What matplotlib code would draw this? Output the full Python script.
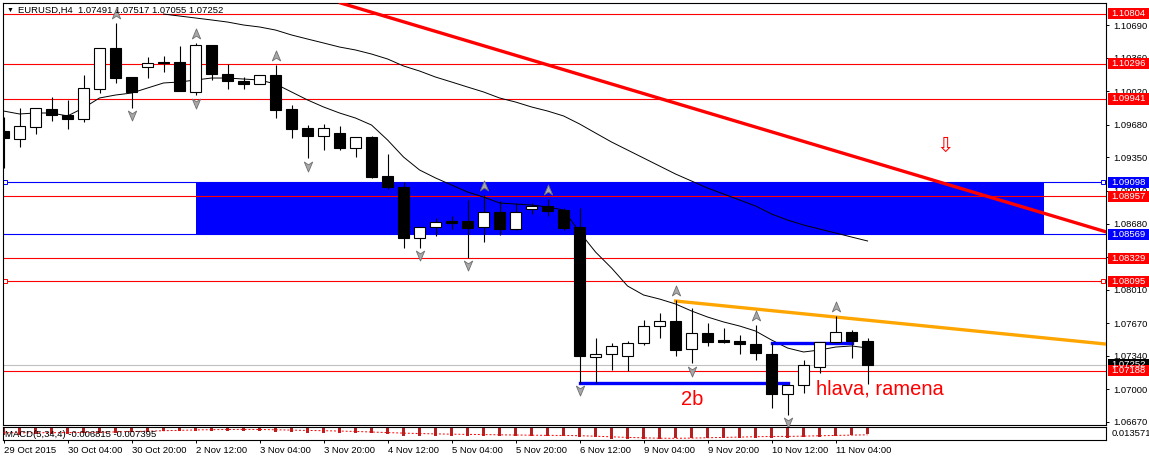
import numpy as np
import matplotlib
matplotlib.use("Agg")
import matplotlib.pyplot as plt
import matplotlib.transforms as mtransforms
from matplotlib.path import Path
from matplotlib.patches import Rectangle

plt.rcParams['font.family'] = ['Liberation Sans', 'DejaVu Sans']

# EURUSD H4 bars, 29 Oct 2015 12:00 .. 11 Nov 2015 12:00
opens = [1.09617, 1.09536, 1.09657, 1.09839, 1.09779, 1.09738, 1.10042, 1.10457, 1.10163, 1.10265,
         1.10315, 1.10315, 1.10012, 1.10487, 1.10194, 1.10123, 1.10093, 1.10184, 1.09839, 1.09647,
         1.09566, 1.09596, 1.09444, 1.09556, 1.09161, 1.09050, 1.08533, 1.08645, 1.08705, 1.08705,
         1.08645, 1.08797, 1.08624, 1.08827, 1.08857, 1.08817, 1.08645, 1.07328, 1.07359, 1.07338,
         1.07470, 1.07642, 1.07693, 1.07409, 1.07571, 1.07500, 1.07490, 1.07460, 1.07359, 1.06954,
         1.07045, 1.07227, 1.07480, 1.07581, 1.07491]
highs = [1.09758, 1.09850, 1.09850, 1.09961, 1.09931, 1.10184, 1.10457, 1.10710, 1.10163, 1.10366,
         1.10376, 1.10477, 1.10508, 1.10487, 1.10295, 1.10163, 1.10184, 1.10285, 1.09880, 1.09677,
         1.09688, 1.09667, 1.09556, 1.09566, 1.09384, 1.09100, 1.08645, 1.08736, 1.08756, 1.08918,
         1.08969, 1.08908, 1.08888, 1.08888, 1.08928, 1.08837, 1.08837, 1.07521, 1.07470, 1.07490,
         1.07703, 1.07774, 1.07905, 1.07824, 1.07672, 1.07622, 1.07551, 1.07652, 1.07470, 1.07045,
         1.07298, 1.07480, 1.07743, 1.07602, 1.07517]
lows = [1.09242, 1.09455, 1.09586, 1.09718, 1.09637, 1.09708, 1.10001, 1.10103, 1.09850, 1.10153,
        1.10214, 1.10022, 1.09981, 1.10133, 1.10042, 1.10042, 1.10093, 1.09748, 1.09546, 1.09343,
        1.09424, 1.09424, 1.09353, 1.09141, 1.09029, 1.08432, 1.08432, 1.08553, 1.08624, 1.08331,
        1.08493, 1.08564, 1.08614, 1.08776, 1.08756, 1.08614, 1.07065, 1.07065, 1.07196, 1.07186,
        1.07450, 1.07521, 1.07338, 1.07267, 1.07440, 1.07470, 1.07359, 1.07298, 1.06812, 1.06741,
        1.06964, 1.07166, 1.07480, 1.07318, 1.07055]
closes = [1.09546, 1.09667, 1.09850, 1.09779, 1.09738, 1.10052, 1.10457, 1.10153, 1.10012, 1.10305,
          1.10305, 1.10022, 1.10487, 1.10194, 1.10123, 1.10093, 1.10184, 1.09829, 1.09637, 1.09566,
          1.09647, 1.09444, 1.09556, 1.09151, 1.09050, 1.08533, 1.08645, 1.08695, 1.08685, 1.08634,
          1.08797, 1.08624, 1.08797, 1.08857, 1.08807, 1.08634, 1.07338, 1.07359, 1.07440, 1.07470,
          1.07642, 1.07693, 1.07399, 1.07571, 1.07480, 1.07480, 1.07460, 1.07369, 1.06954, 1.07045,
          1.07247, 1.07480, 1.07581, 1.07490, 1.07252]

# moving averages
ma_fast = [1.09819, 1.09789, 1.09799, 1.09799, 1.09769, 1.09850, 1.09951, 1.09981, 1.10001, 1.10052,
           1.10103, 1.10113, 1.10133, 1.10153, 1.10153, 1.10143, 1.10133, 1.10093, 1.10012, 1.09931,
           1.09860, 1.09799, 1.09748, 1.09677, 1.09526, 1.09353, 1.09222, 1.09141, 1.09070, 1.08999,
           1.08948, 1.08888, 1.08877, 1.08867, 1.08847, 1.08817, 1.08594, 1.08391, 1.08229, 1.08047,
           1.07956, 1.07915, 1.07865, 1.07794, 1.07733, 1.07683, 1.07642, 1.07591, 1.07500, 1.07419,
           1.07379, 1.07399, 1.07429, 1.07440, 1.07419]
ma_slow = [np.nan] * 10 + [
           1.10801, 1.10781, 1.10761, 1.10741, 1.10720, 1.10690, 1.10670, 1.10639, 1.10589, 1.10548,
           1.10508, 1.10467, 1.10437, 1.10396, 1.10346, 1.10275, 1.10224, 1.10163, 1.10113, 1.10062,
           1.10012, 1.09951, 1.09910, 1.09860, 1.09819, 1.09769, 1.09688, 1.09596, 1.09505, 1.09424,
           1.09343, 1.09262, 1.09181, 1.09110, 1.09039, 1.08979, 1.08918, 1.08857, 1.08776, 1.08715,
           1.08665, 1.08624, 1.08584, 1.08543, 1.08503]

# MACD(5,34,4)
macd_main = [-0.0076, -0.0076, -0.0068, -0.0064, -0.0064, -0.0057, -0.0049, -0.0049, -0.0045, -0.0038,
             -0.0030, -0.0027, -0.0027, -0.0027, -0.0027, -0.0030, -0.0030, -0.0038, -0.0042, -0.0049,
             -0.0049, -0.0049, -0.0057, -0.0057, -0.0068, -0.0083, -0.0087, -0.0087, -0.0087, -0.0087,
             -0.0087, -0.0087, -0.0087, -0.0087, -0.0087, -0.0087, -0.0095, -0.0095, -0.0125, -0.0125,
             -0.0125, -0.0125, -0.0114, -0.0114, -0.0114, -0.0106, -0.0106, -0.0106, -0.0106, -0.0106,
             -0.0095, -0.0095, -0.0087, -0.0080, -0.006815]
macd_signal = [-0.0049, -0.0050, -0.0050, -0.0049, -0.0048, -0.0046, -0.0045, -0.0040, -0.0036, -0.0031,
               -0.0026, -0.0022, -0.0017, -0.0014, -0.0012, -0.0011, -0.0012, -0.0015, -0.0019, -0.0023,
               -0.0026, -0.0030, -0.0035, -0.0041, -0.0048, -0.0054, -0.0059, -0.0063, -0.0066, -0.0069,
               -0.0071, -0.0074, -0.0076, -0.0078, -0.0080, -0.0081, -0.0084, -0.0090, -0.0097, -0.0104,
               -0.0109, -0.0113, -0.0114, -0.0112, -0.0108, -0.0104, -0.0100, -0.0096, -0.0093, -0.0092,
               -0.0089, -0.0085, -0.0081, -0.0077, -0.007395]

fractal_up = [7, 12, 17, 30, 34, 42, 47, 52]
fractal_down = [8, 12, 19, 26, 29, 36, 43, 49]

red_levels = [1.10804, 1.10296, 1.09941, 1.08957, 1.08329, 1.08095, 1.07188]
blue_levels = [1.09098, 1.08569]
bid = 1.07252

price_ticks = [1.10690, 1.10360, 1.10020, 1.09680, 1.09350, 1.09010, 1.08680,
               1.08340, 1.08010, 1.07670, 1.07340, 1.07000, 1.06670]
time_ticks = [0, 4, 8, 12, 16, 20, 24, 28, 32, 36, 40, 44, 48, 52]
time_labels = ['29 Oct 2015', '30 Oct 04:00', '30 Oct 20:00', '2 Nov 12:00', '3 Nov 04:00',
               '3 Nov 20:00', '4 Nov 12:00', '5 Nov 04:00', '5 Nov 20:00', '6 Nov 12:00',
               '9 Nov 04:00', '9 Nov 20:00', '10 Nov 12:00', '11 Nov 04:00']

idx = np.arange(len(opens))
o = np.array(opens); c = np.array(closes)

W, H = 1149, 458
fig = plt.figure(figsize=(W / 100, H / 100), dpi=100)
ax = fig.add_axes([2.7 / W, 1 - 425 / H, (1106 - 2.7) / W, (425 - 3) / H])
sub = fig.add_axes([2.7 / W, 1 - 440 / H, (1106 - 2.7) / W, (440 - 427) / H])

ax.set_xlim(-0.05, 68.9)
ax.set_ylim(1.066396, 1.109128)

# zone and horizontal levels
ax.add_patch(Rectangle((12, blue_levels[1]), 65 - 12, blue_levels[0] - blue_levels[1],
                       fc='#0000FF', ec='none', zorder=1))
for p in red_levels:
    ax.axhline(p, color='#FF0000', lw=0.8, zorder=1.5)
for p in blue_levels:
    ax.axhline(p, color='#0000FF', lw=0.8, zorder=1.5)
ax.axhline(bid, color='#C0C0C0', lw=0.8, zorder=1.4)
for p, col in [(blue_levels[0], '#0000FF'), (1.08095, '#FF0000')]:
    ax.plot([0.1, 68.7], [p, p], ls='none', marker='s', ms=3.2, mfc='white', mec=col,
            mew=0.7, clip_on=False, zorder=2)

# trend lines
ax.axline((24, 1.10771), (64, 1.08833), color='#FF0000', lw=2.4, zorder=3.5)
slope = (1.07571 - 1.07895) / (62 - 42)
ax.plot([42, 70], [1.07895, 1.07895 + slope * 28], color='#FFA500', lw=2.4, zorder=3.5)
ax.plot([36, 49], [1.07065, 1.07065], color='#0000FF', lw=2.4, zorder=3.5)
ax.plot([48, 53], [1.07470, 1.07470], color='#0000FF', lw=2.4, zorder=3.5)

# moving averages
ax.plot(idx, ma_slow, color='black', lw=0.7, zorder=3)
ax.plot(idx, ma_fast, color='black', lw=0.7, zorder=3)

# candles
ax.vlines(idx, lows, highs, color='black', lw=0.8, zorder=4)
body = np.maximum(np.abs(c - o), 0.00008)
ax.bar(idx, body, bottom=np.minimum(o, c), width=0.69,
       color=np.where(c >= o, 'white', 'black'), edgecolor='black', linewidth=0.8, zorder=5)

# fractals
up_path = Path([(0, 1), (0.75, -0.8), (0, -0.3), (-0.75, -0.8), (0, 1)],
               [Path.MOVETO, Path.LINETO, Path.LINETO, Path.LINETO, Path.CLOSEPOLY])
down_path = Path([(0, -1), (0.75, 0.8), (0, 0.3), (-0.75, 0.8), (0, -1)],
                 [Path.MOVETO, Path.LINETO, Path.LINETO, Path.LINETO, Path.CLOSEPOLY])
tr_up = mtransforms.offset_copy(ax.transData, fig=fig, y=9, units='dots')
tr_dn = mtransforms.offset_copy(ax.transData, fig=fig, y=-7.5, units='dots')
ax.plot(fractal_up, [highs[i] for i in fractal_up], ls='none', marker=up_path, ms=8,
        mfc='#A8A8A8', mec='#6E6E6E', mew=0.6, transform=tr_up, zorder=6, clip_on=False)
ax.plot(fractal_down, [lows[i] for i in fractal_down], ls='none', marker=down_path, ms=8,
        mfc='#A8A8A8', mec='#6E6E6E', mew=0.6, transform=tr_dn, zorder=6, clip_on=False)

# annotations
ax.text(42.34, 1.06842, '2b', color='#FF0000', fontsize=14.5, ha='left', va='baseline', zorder=7)
ax.text(50.78, 1.06953, 'hlava, ramena', color='#FF0000', fontsize=14.5, ha='left',
        va='baseline', zorder=7)
ax.text(58.84, 1.09465, '\u21e9', color='#FF0000', fontsize=15, ha='center', va='center',
        family=['DejaVu Sans'], zorder=7)

# price axis
ax.yaxis.tick_right()
ax.set_yticks(price_ticks)
ax.set_yticklabels(['%.5f' % p for p in price_ticks])
ax.tick_params(axis='y', direction='out', length=2.5, width=0.7, pad=2.5, labelsize=6.8)
ax.set_xticks([])
for s in ax.spines.values():
    s.set_linewidth(0.8)

blend = mtransforms.blended_transform_factory(ax.transAxes, ax.transData)
aw = 1106 - 2.7
tags = [(p, '#FF0000') for p in red_levels[:-1]] + [(p, '#0000FF') for p in blue_levels] \
       + [(bid, 'black'), (red_levels[-1], '#FF0000')]
for p, col in tags:
    ax.add_patch(Rectangle((1 + 2 / aw, p - 0.00056), 41 / aw, 0.00112, transform=blend,
                           fc=col, ec='none', clip_on=False, zorder=8))
    ax.text(1 + 5.5 / aw, p, '%.5f' % p, transform=blend, color='white', fontsize=6.8,
            va='center', ha='left', clip_on=False, zorder=9)

fig.text(7 / W, 1 - 10.5 / H, '\u25bc', fontsize=5, va='center', ha='left')
fig.text(18 / W, 1 - 10.5 / H, 'EURUSD,H4  1.07491 1.07517 1.07055 1.07252',
         fontsize=6.8, va='center', ha='left')

# MACD window
sub.set_xlim(-0.05, 68.9)
sub.set_ylim(-0.0134, 0.0017)
sub.bar(idx, macd_main, width=0.22, color='#B22222', zorder=2)
sub.plot(idx, macd_signal, color='#FF0000', lw=0.7, ls=(0, (2, 2)), zorder=3)
sub.set_yticks([])
sub.set_xticks(time_ticks)
sub.set_xticklabels(time_labels, ha='left')
sub.tick_params(axis='x', direction='out', length=2.5, width=0.7, pad=1.5, labelsize=6.8)
for s in sub.spines.values():
    s.set_linewidth(0.8)
sub.text(0.002, 0.45, 'MACD(5,34,4) -0.006815 -0.007395', transform=sub.transAxes,
         fontsize=6.8, va='center', ha='left', zorder=5)
sub.text(1 + 5.5 / aw, 0.5, '0.013571', transform=sub.transAxes, fontsize=6.8,
         va='center', ha='left', clip_on=False)

fig.savefig('out.png', dpi=100)
